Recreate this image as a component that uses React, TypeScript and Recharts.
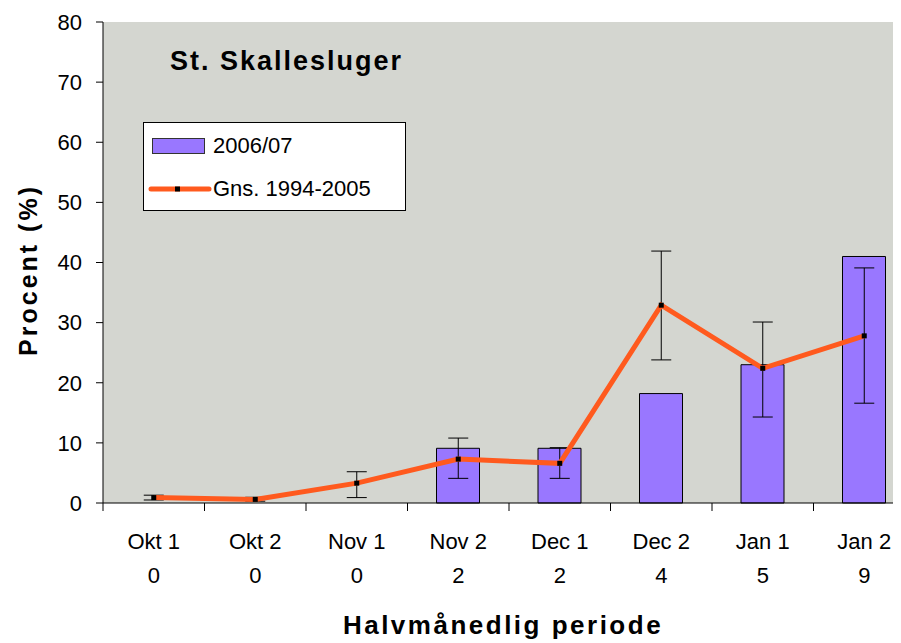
import React from "react";
import {
  Bar,
  CartesianGrid,
  ComposedChart,
  ErrorBar,
  Line,
  XAxis,
  YAxis,
} from "recharts";

// Data
const PERIODS = ["Okt 1", "Okt 2", "Nov 1", "Nov 2", "Dec 1", "Dec 2", "Jan 1", "Jan 2"];
const COUNTS = [0, 0, 0, 2, 2, 4, 5, 9];
const SEASON_2006 = [0, 0, 0, 9.1, 9.1, 18.2, 23.0, 41.0];
const AVG_1994_2005 = [0.9, 0.6, 3.3, 7.3, 6.6, 32.9, 22.4, 27.8];
const AVG_LOW = [0.5, 0.3, 0.9, 4.1, 4.1, 23.8, 14.3, 16.6];
const AVG_HIGH = [1.3, 0.95, 5.2, 10.8, 9.2, 41.9, 30.1, 39.1];
const Y_TICKS = [0, 10, 20, 30, 40, 50, 60, 70, 80];

const BAR_COLOR = "#9977FF";
const LINE_COLOR = "#FF5A1E";
const PLOT_BG = "#D4D6D0";
const FONT = '"Liberation Sans", Arial, sans-serif';

const data = PERIODS.map((p, i) => ({
  period: p,
  n: COUNTS[i],
  season: SEASON_2006[i] > 0 ? SEASON_2006[i] : null,
  avg: AVG_1994_2005[i],
  err: [AVG_1994_2005[i] - AVG_LOW[i], AVG_HIGH[i] - AVG_1994_2005[i]],
}));

const XTick = (props: any) => {
  const { x, y, payload, index } = props;
  const half = payload && payload.offset ? payload.offset : 50.75;
  return (
    <g>
      <line x1={x - half} y1={y} x2={x - half} y2={y + 8} stroke="#000" />
      <text x={x} y={y + 46} textAnchor="middle" fontSize={22} fontFamily={FONT} fill="#000">
        {payload.value}
      </text>
      <text x={x} y={y + 80} textAnchor="middle" fontSize={22} fontFamily={FONT} fill="#000">
        {COUNTS[index]}
      </text>
    </g>
  );
};

const SquareDot = (props: any) => {
  const { cx, cy, index } = props;
  if (cx == null || cy == null) return <g key={index} />;
  return <rect key={index} x={cx - 2.5} y={cy - 2.5} width={5} height={5} fill="#000" />;
};

// Legend box drawn over the plot, like the original
const LegendBox = () => (
  <div
    style={{
      position: "absolute",
      left: 143,
      top: 122,
      width: 263,
      height: 89,
      boxSizing: "border-box",
      border: "1px solid #000",
      background: "#fff",
      fontFamily: FONT,
      fontSize: 22,
      color: "#000",
    }}
  >
    <svg width={70} height={89} style={{ position: "absolute", left: 0, top: 0 }}>
      <rect x={8.5} y={15.5} width={52} height={15} fill={BAR_COLOR} stroke="#333" />
      <line x1={7} y1={66} x2={65} y2={66} stroke={LINE_COLOR} strokeWidth={5} strokeLinecap="round" />
      <rect x={31} y={63.5} width={5} height={5} fill="#000" />
    </svg>
    <div style={{ position: "absolute", left: 69, top: 10, lineHeight: "26px" }}>2006/07</div>
    <div style={{ position: "absolute", left: 69, top: 53, lineHeight: "26px" }}>Gns. 1994-2005</div>
  </div>
);

export default function App() {
  return (
    <div
      style={{
        position: "relative",
        width: 901,
        height: 643,
        overflow: "hidden",
        margin: "-8px 0 0 -8px",
        background: "#fff",
        fontFamily: FONT,
      }}
    >
      <ComposedChart
        width={915}
        height={643}
        data={data}
        margin={{ top: 22, right: 0, bottom: 0, left: 0 }}
      >
        <CartesianGrid fill={PLOT_BG} stroke="none" horizontal={false} vertical={false} />
        <XAxis
          dataKey="period"
          height={140}
          tickLine={false}
          tickSize={0}
          tickMargin={0}
          axisLine={{ stroke: "#000" }}
          tick={<XTick />}
          interval={0}
        />
        <YAxis
          width={103}
          domain={[0, 80]}
          ticks={Y_TICKS}
          interval={0}
          tickSize={7}
          tickMargin={14}
          axisLine={{ stroke: "#000" }}
          tickLine={{ stroke: "#000" }}
          tick={{ fontSize: 22, fill: "#000", fontFamily: FONT }}
        />
        <Bar
          dataKey="season"
          name="2006/07"
          fill={BAR_COLOR}
          stroke="#000"
          strokeWidth={1}
          barSize={43}
          isAnimationActive={false}
        />
        <Line
          dataKey="avg"
          name="Gns. 1994-2005"
          stroke={LINE_COLOR}
          strokeWidth={5}
          dot={<SquareDot />}
          activeDot={false}
          isAnimationActive={false}
        >
          <ErrorBar dataKey="err" direction="y" width={10} stroke="#000" strokeWidth={1} />
        </Line>
      </ComposedChart>
      <LegendBox />
      <svg
        width={901}
        height={643}
        style={{ position: "absolute", left: 0, top: 0, pointerEvents: "none" }}
      >
        <text x={170} y={70} fontSize={27} fontWeight="bold" letterSpacing={2} fontFamily={FONT} fill="#000">
          St. Skallesluger
        </text>
        <text
          x={37}
          y={270}
          textAnchor="middle"
          fontSize={25}
          fontWeight="bold"
          letterSpacing={3}
          fontFamily={FONT}
          fill="#000"
          transform="rotate(-90, 37, 270)"
        >
          Procent (%)
        </text>
        <text x={503} y={634} textAnchor="middle" fontSize={26} fontWeight="bold" letterSpacing={2.5} fontFamily={FONT} fill="#000">
          Halvmånedlig periode
        </text>
      </svg>
    </div>
  );
}
